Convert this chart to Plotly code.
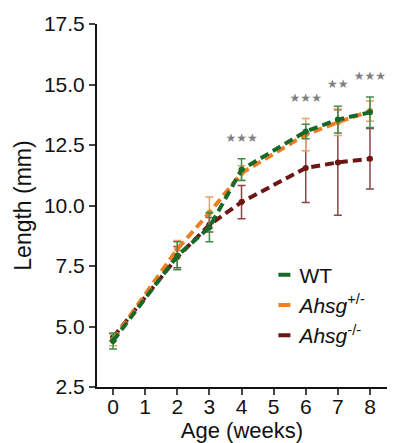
import plotly.graph_objects as go

weeks = [0, 2, 3, 4, 6, 7, 8]
wt_mean = [4.40, 7.92, 9.10, 11.48, 13.06, 13.55, 13.85]
wt_err = [0.33, 0.58, 0.60, 0.45, 0.30, 0.55, 0.63]
het_mean = [4.45, 8.20, 9.70, 11.34, 12.93, 13.44, 13.90]
het_err = [0.25, 0.35, 0.65, 0.30, 0.67, 0.55, 0.42]
ko_mean = [4.55, 7.87, 9.20, 10.14, 11.55, 11.78, 11.93]
ko_err = [0.15, 0.44, 0.30, 0.69, 1.43, 2.18, 1.25]

star_weeks = [4, 6, 7, 8]
star_labels = ["★★★", "★★★", "★★", "★★★"]
star_y = [12.76, 14.42, 14.96, 15.33]

x_ticks = [0, 1, 2, 3, 4, 5, 6, 7, 8]
y_ticks = [2.5, 5.0, 7.5, 10.0, 12.5, 15.0, 17.5]

series = [
    ("<i>Ahsg</i><sup>-/-</sup>", ko_mean, ko_err, "#6e1616", "#8a4646"),
    ("<i>Ahsg</i><sup>+/-</sup>", het_mean, het_err, "#ef7d22", "#f2a060"),
    ("WT", wt_mean, wt_err, "#17692a", "#3f8a4c"),
]

fig = go.Figure()
for name, m, e, col, ecol in series:
    fig.add_trace(go.Scatter(
        x=weeks, y=m, mode="lines+markers", showlegend=False,
        line=dict(color=col, width=4, dash="9px,5px"),
        marker=dict(color=col, size=6),
        error_y=dict(type="data", array=e, visible=True, color=ecol,
                     thickness=1.5, width=4),
    ))

for name, m, e, col, ecol in reversed(series):
    fig.add_trace(go.Scatter(
        x=[None], y=[None], mode="lines", name=name,
        line=dict(color=col, width=4, dash="0px,14px,12px,100px"),
    ))

fig.add_trace(go.Scatter(
    x=star_weeks, y=star_y, mode="text", text=star_labels, showlegend=False,
    textfont=dict(family="DejaVu Sans", size=12, color="#7f7f7f"),
    hoverinfo="skip", cliponaxis=False,
))

font = "Liberation Sans, Arial, sans-serif"
fig.update_layout(
    width=387, height=435,
    margin=dict(l=89, r=8, t=16, b=56, autoexpand=False),
    paper_bgcolor="white", plot_bgcolor="white",
    font=dict(family=font, size=21, color="#111111"),
    showlegend=True,
    legend=dict(x=0.56, y=0.365, xanchor="left", yanchor="top",
                bgcolor="rgba(0,0,0,0)", font=dict(size=21),
                itemwidth=30, tracegroupgap=0),
    xaxis=dict(range=[-0.5, 8.53], tickvals=x_ticks, ticks="outside",
               ticklen=6, tickwidth=2, linecolor="#111111", linewidth=2,
               showline=True, showgrid=False, zeroline=False, automargin=False,
               ticklabelstandoff=-6,
               title=dict(text="Age (weeks)", standoff=12, font=dict(size=22))),
    yaxis=dict(range=[2.5, 17.5], tickvals=y_ticks, tickformat=".1f",
               ticks="outside", ticklen=6, tickwidth=2,
               linecolor="#111111", linewidth=2, showline=True,
               showgrid=False, zeroline=False, automargin=False,
               title=dict(text="Length (mm)", standoff=6, font=dict(size=23))),
)

fig.write_html("out.html")
